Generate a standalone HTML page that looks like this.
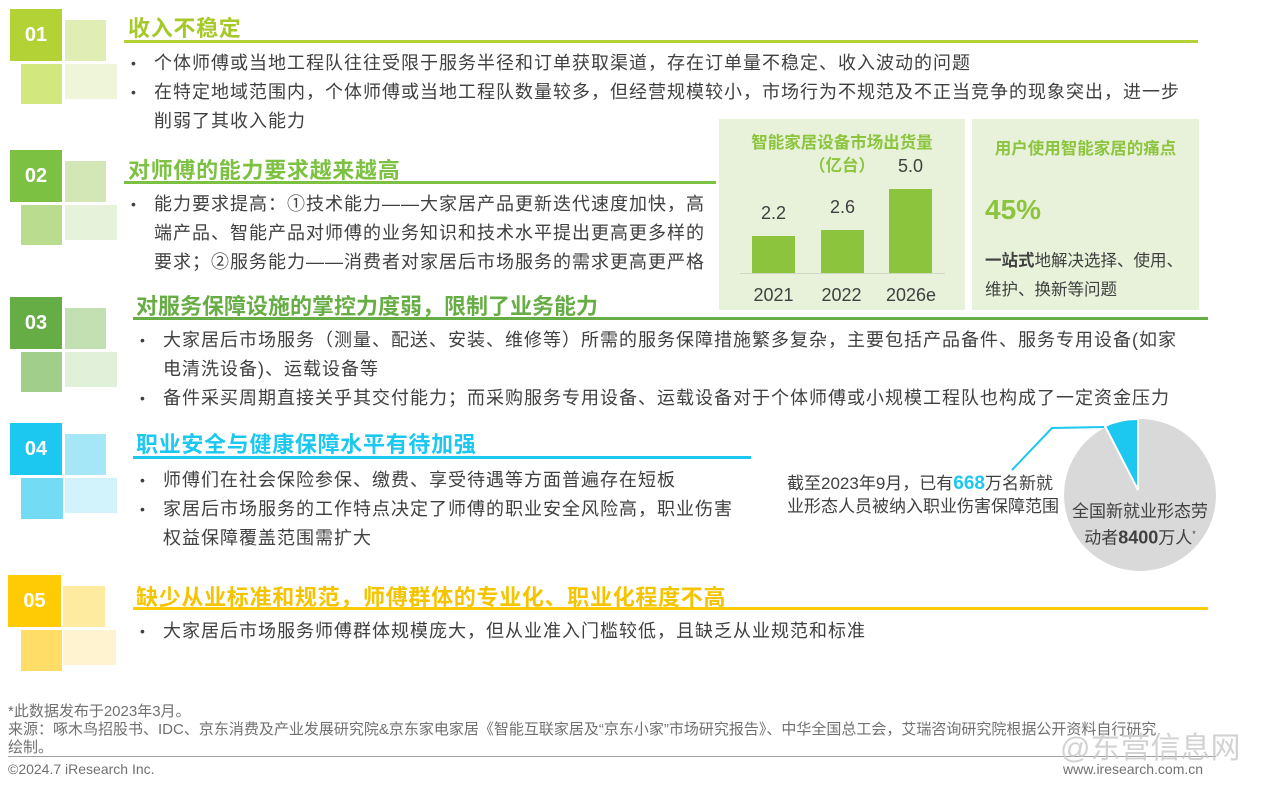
<!DOCTYPE html>
<html><head><meta charset="utf-8"><style>
*{margin:0;padding:0;box-sizing:border-box}
body{width:1280px;height:787px;background:#fff;position:relative;overflow:hidden;font-family:"Liberation Sans","Noto Sans CJK SC",sans-serif;color:#404040}
.a{position:absolute}
.sq{position:absolute}
.num{position:absolute;color:#fff;font-weight:bold;font-size:20px;display:flex;align-items:center;justify-content:center}
.t{position:absolute;font-size:22px;letter-spacing:0.7px;font-weight:bold;white-space:nowrap;line-height:24px}
.ln{position:absolute;height:3px}
.b{position:absolute;font-size:18px;letter-spacing:1px;line-height:29px;white-space:nowrap;color:#404040}
.dot{position:absolute;font-size:14px;color:#404040}
</style></head><body>

<!-- 01 -->
<div class="sq" style="left:65px;top:20px;width:41px;height:41px;background:#e0edb5"></div>
<div class="sq" style="left:21px;top:64px;width:41px;height:40px;background:#d3e77f"></div>
<div class="sq" style="left:65px;top:64px;width:52px;height:35px;background:#eef5d9"></div>
<div class="num" style="left:10px;top:9px;width:52px;height:52px;background:#b2d235">01</div>
<div class="t" style="left:128px;top:17px;color:#a6c92a">收入不稳定</div>
<div class="ln" style="left:124px;top:40px;width:1074px;background:#b2d235"></div>
<div class="dot" style="left:131px;top:55px">•</div>
<div class="b" style="left:154px;top:49px">个体师傅或当地工程队往往受限于服务半径和订单获取渠道，存在订单量不稳定、收入波动的问题</div>
<div class="dot" style="left:131px;top:84px">•</div>
<div class="b" style="left:154px;top:78px">在特定地域范围内，个体师傅或当地工程队数量较多，但经营规模较小，市场行为不规范及不正当竞争的现象突出，进一步<br>削弱了其收入能力</div>

<!-- 02 -->
<div class="sq" style="left:65px;top:161px;width:41px;height:41px;background:#d2e7b5"></div>
<div class="sq" style="left:21px;top:205px;width:41px;height:40px;background:#b9dc8e"></div>
<div class="sq" style="left:65px;top:205px;width:52px;height:35px;background:#e7f2db"></div>
<div class="num" style="left:10px;top:150px;width:52px;height:52px;background:#7cc142">02</div>
<div class="t" style="left:128px;top:159px;color:#7cc142">对师傅的能力要求越来越高</div>
<div class="ln" style="left:124px;top:181px;width:592px;background:#7cc142"></div>
<div class="dot" style="left:131px;top:196px">•</div>
<div class="b" style="left:154px;top:190px">能力要求提高：①技术能力——大家居产品更新迭代速度加快，高<br>端产品、智能产品对师傅的业务知识和技术水平提出更高更多样的<br>要求；②服务能力——消费者对家居后市场服务的需求更高更严格</div>

<!-- chart panels -->
<div class="a" style="left:719px;top:119px;width:246px;height:191px;background:#e8f2da"></div>
<div class="a" style="left:972px;top:119px;width:227px;height:191px;background:#e8f2da"></div>
<div class="a" style="left:719px;top:132px;width:246px;text-align:center;font-size:16.5px;font-weight:bold;color:#8cc43e;line-height:23px">智能家居设备市场出货量<br>（亿台）</div>
<div class="a" style="left:740px;top:273px;width:205px;height:1px;background:#d0d8c8"></div>
<div class="a" style="left:752px;top:236px;width:43px;height:37px;background:#8cc43e"></div>
<div class="a" style="left:821px;top:230px;width:43px;height:43px;background:#8cc43e"></div>
<div class="a" style="left:889px;top:189px;width:43px;height:84px;background:#8cc43e"></div>
<div class="a" style="left:747px;top:203px;width:53px;text-align:center;font-size:18px">2.2</div>
<div class="a" style="left:816px;top:197px;width:53px;text-align:center;font-size:18px">2.6</div>
<div class="a" style="left:884px;top:156px;width:53px;text-align:center;font-size:18px">5.0</div>
<div class="a" style="left:741px;top:285px;width:65px;text-align:center;font-size:18px">2021</div>
<div class="a" style="left:809px;top:285px;width:65px;text-align:center;font-size:18px">2022</div>
<div class="a" style="left:877px;top:285px;width:68px;text-align:center;font-size:18px">2026e</div>
<div class="a" style="left:972px;top:135px;width:227px;text-align:center;font-size:16.5px;font-weight:bold;color:#8cc43e">用户使用智能家居的痛点</div>
<div class="a" style="left:985px;top:194px;font-size:28px;font-weight:bold;color:#8cc43e">45%</div>
<div class="a" style="left:985px;top:247px;font-size:16.5px;line-height:29px;white-space:nowrap"><b>一站式</b>地解决选择、使用、<br>维护、换新等问题</div>

<!-- 03 -->
<div class="sq" style="left:65px;top:308px;width:41px;height:41px;background:#c3e0b3"></div>
<div class="sq" style="left:21px;top:352px;width:41px;height:40px;background:#a1cf8b"></div>
<div class="sq" style="left:65px;top:352px;width:52px;height:35px;background:#e1f0d9"></div>
<div class="num" style="left:10px;top:297px;width:52px;height:52px;background:#67ad45">03</div>
<div class="t" style="left:136px;top:295px;color:#67ad45;letter-spacing:0">对服务保障设施的掌控力度弱，限制了业务能力</div>
<div class="ln" style="left:133px;top:317px;width:1075px;background:#67ad45"></div>
<div class="dot" style="left:140px;top:332px">•</div>
<div class="b" style="left:163px;top:326px">大家居后市场服务（测量、配送、安装、维修等）所需的服务保障措施繁多复杂，主要包括产品备件、服务专用设备(如家<br>电清洗设备)、运载设备等</div>
<div class="dot" style="left:140px;top:390px">•</div>
<div class="b" style="left:163px;top:384px">备件采买周期直接关乎其交付能力；而采购服务专用设备、运载设备对于个体师傅或小规模工程队也构成了一定资金压力</div>

<!-- 04 -->
<div class="sq" style="left:65px;top:434px;width:41px;height:41px;background:#a5e6f7"></div>
<div class="sq" style="left:21px;top:478px;width:42px;height:41px;background:#74dbf4"></div>
<div class="sq" style="left:65px;top:478px;width:52px;height:35px;background:#d2f3fb"></div>
<div class="num" style="left:10px;top:423px;width:52px;height:52px;background:#1dc8f0">04</div>
<div class="t" style="left:136px;top:433px;color:#1dc8f0">职业安全与健康保障水平有待加强</div>
<div class="ln" style="left:133px;top:456px;width:618px;background:#1dc8f0"></div>
<div class="dot" style="left:140px;top:472px">•</div>
<div class="b" style="left:163px;top:466px">师傅们在社会保险参保、缴费、享受待遇等方面普遍存在短板</div>
<div class="dot" style="left:140px;top:501px">•</div>
<div class="b" style="left:163px;top:495px">家居后市场服务的工作特点决定了师傅的职业安全风险高，职业伤害<br>权益保障覆盖范围需扩大</div>

<!-- pie -->
<svg class="a" style="left:0;top:0" width="1280" height="787">
<circle cx="1140" cy="495" r="76" fill="#d9d9d9"/>
<path d="M1138,490 L1138,419 A76,76 0 0 0 1105,426 Z" fill="#1dc8f0" stroke="#fff" stroke-width="2"/>
<polyline points="1012,470 1052,428 1104,427" fill="none" stroke="#1dc8f0" stroke-width="2"/>
</svg>
<div class="a" style="left:787px;top:472px;font-size:17px;line-height:23px;white-space:nowrap">截至2023年9月，已有<b style="color:#1dc8f0;font-size:19px">668</b>万名新就<br>业形态人员被纳入职业伤害保障范围</div>
<div class="a" style="left:1062px;top:500px;width:156px;text-align:center;font-size:17px;line-height:23px">全国新就业形态劳<br>动者<b style="font-size:18px">8400</b>万人<sup style="font-size:9px">*</sup></div>

<!-- 05 -->
<div class="sq" style="left:63px;top:586px;width:42px;height:41px;background:#ffeba0"></div>
<div class="sq" style="left:21px;top:630px;width:41px;height:41px;background:#ffdd66"></div>
<div class="sq" style="left:63px;top:630px;width:53px;height:35px;background:#fff4cf"></div>
<div class="num" style="left:8px;top:575px;width:53px;height:52px;background:#ffcb05">05</div>
<div class="t" style="left:136px;top:586px;color:#f5c400">缺少从业标准和规范，师傅群体的专业化、职业化程度不高</div>
<div class="ln" style="left:133px;top:607px;width:1075px;background:#ffcb05"></div>
<div class="dot" style="left:140px;top:623px">•</div>
<div class="b" style="left:163px;top:617px">大家居后市场服务师傅群体规模庞大，但从业准入门槛较低，且缺乏从业规范和标准</div>

<!-- footer -->
<div class="a" style="left:8px;top:703px;font-size:15px;line-height:18px;color:#707070;white-space:nowrap">*此数据发布于2023年3月。<br>来源：啄木鸟招股书、IDC、京东消费及产业发展研究院&amp;京东家电家居《智能互联家居及“京东小家”市场研究报告》、中华全国总工会，艾瑞咨询研究院根据公开资料自行研究<br>绘制。</div>
<div class="a" style="left:8px;top:756px;width:1208px;height:1px;background:#a0a0a0"></div>
<div class="a" style="left:8px;top:761px;font-size:14px;color:#707070">©2024.7 iResearch Inc.</div>
<div class="a" style="left:1063px;top:761px;font-size:14px;color:#707070">www.iresearch.com.cn</div>
<div class="a" style="left:1060px;top:723px;font-size:30px;color:#c8c8c8;white-space:nowrap;opacity:.8">@东营信息网</div>
</body></html>
